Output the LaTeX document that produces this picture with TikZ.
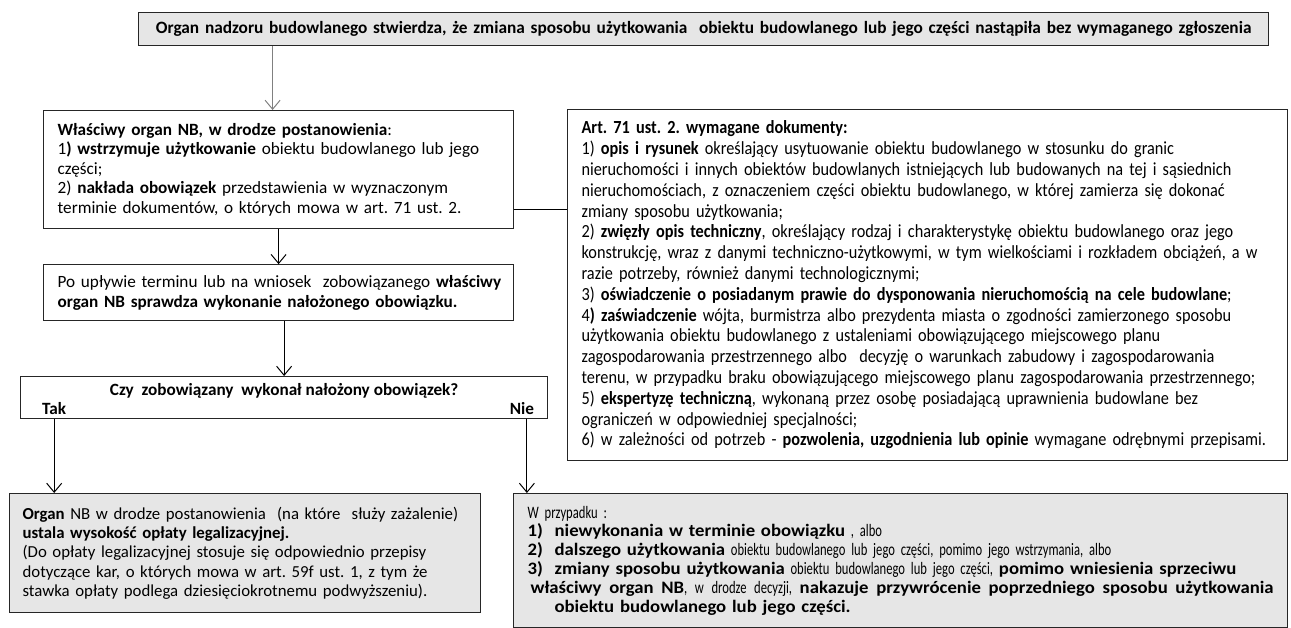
\documentclass[tikz,border=0pt]{standalone}
\usepackage{fontspec}
\setmainfont{Carlito}
\newfontfamily\docsfont{Carlito}[FakeStretch=0.88]
\newfontfamily\casefont{Carlito}[FakeStretch=0.72]
\newfontfamily\caseboldfont{Carlito Bold}[FakeStretch=1.07]
\newcommand{\casebf}[1]{{\caseboldfont #1}}
\usetikzlibrary{arrows.meta,positioning}
\definecolor{boxgray}{RGB}{230,230,230}
\frenchspacing

\begin{document}
\begin{tikzpicture}[
  x=1pt,y=-1pt,
  plainbox/.style={rectangle,draw=black!85,line width=1.2pt,fill=white,anchor=north west,
               inner xsep=14pt,inner ysep=3pt,align=left,font=\fontsize{17.2}{19.5}\selectfont},
  graybox/.style={plainbox,fill=boxgray},
  lbl/.style={font=\bfseries\fontsize{17.2}{19.5}\selectfont,inner sep=0pt},
  arr/.style={-{Straight Barb[length=9pt,width=15pt]},line width=1pt}
]
  \useasboundingbox (0,0) rectangle (1291,628);

  \node[graybox,minimum width=1130pt,minimum height=33pt,text width=1102pt,align=center,
        font=\bfseries\fontsize{17.3}{19.5}\selectfont] (start) at (138,12)
    {Organ nadzoru budowlanego stwierdza, że zmiana sposobu użytkowania\ \ obiektu budowlanego lub jego części nastąpiła bez wymaganego zgłoszenia};

  \node[plainbox,minimum height=118pt,text width=442pt] (order) at (43,110)
    {\textbf{Właściwy organ NB, w drodze postanowienia}:\\
     1\textbf{) wstrzymuje użytkowanie} obiektu budowlanego lub jego\\
     części;\\
     2) \textbf{nakłada obowiązek} przedstawienia w wyznaczonym\\
     terminie dokumentów, o których mowa w art. 71 ust. 2.};

  \node[plainbox,minimum height=56pt,text width=442pt,below=35pt of order.south west,anchor=north west] (verify)
    {\mbox{Po upływie terminu lub na wniosek\ \ zobowiązanego \textbf{właściwy}}\\
     \textbf{organ NB sprawdza wykonanie nałożonego obowiązku.}};

  \node[plainbox,minimum width=527pt,minimum height=42pt] (decision) at (20,376) {};
  \node[lbl,below=7pt of decision.north] (question) {Czy\ \ zobowiązany\ \ wykonał nałożony obowiązek?};
  \node[lbl,anchor=base west] (yes) at ([xshift=22pt,yshift=5pt]decision.south west) {Tak};
  \node[lbl,anchor=base east] (no) at ([xshift=-14pt,yshift=5pt]decision.south east) {Nie};

  \node[plainbox,minimum height=351pt,text width=692pt,font=\docsfont\fontsize{18.5}{20.8}\selectfont] (docs) at (567,109)
    {\textbf{Art. 71 ust. 2. wymagane dokumenty:}\\
     1) \textbf{opis i rysunek} określający usytuowanie obiektu budowlanego w stosunku do granic\\
     nieruchomości i innych obiektów budowlanych istniejących lub budowanych na tej i sąsiednich\\
     nieruchomościach, z oznaczeniem części obiektu budowlanego, w której zamierza się dokonać\\
     zmiany sposobu użytkowania;\\
     2) \textbf{zwięzły opis techniczny}, określający rodzaj i charakterystykę obiektu budowlanego oraz jego\\
     konstrukcję, wraz z danymi techniczno-użytkowymi, w tym wielkościami i rozkładem obciążeń, a w\\
     razie potrzeby, również danymi technologicznymi;\\
     3) \textbf{oświadczenie o posiadanym prawie do dysponowania nieruchomością na cele budowlane};\\
     4\textbf{) zaświadczenie} wójta, burmistrza albo prezydenta miasta o zgodności zamierzonego sposobu\\
     użytkowania obiektu budowlanego z ustaleniami obowiązującego miejscowego planu\\
     zagospodarowania przestrzennego albo\ \ decyzję o warunkach zabudowy i zagospodarowania\\
     terenu, w przypadku braku obowiązującego miejscowego planu zagospodarowania przestrzennego;\\
     5) \textbf{ekspertyzę techniczną}, wykonaną przez osobę posiadającą uprawnienia budowlane bez\\
     ograniczeń w odpowiedniej specjalności;\\
     6) w zależności od potrzeb - \textbf{pozwolenia, uzgodnienia lub opinie} wymagane odrębnymi przepisami.};

  \node[graybox,minimum height=119pt,text width=445pt,inner xsep=13pt,
        font=\fontsize{16.8}{19.4}\selectfont] (fee) at (9,493)
    {\mbox{\textbf{Organ} NB w drodze postanowienia\ \ (na które\ \ służy zażalenie)}\\
     \textbf{ustala wysokość opłaty legalizacyjnej.}\\
     (Do opłaty legalizacyjnej stosuje się odpowiednio przepisy\\
     dotyczące kar, o których mowa w art. 59f ust. 1, z tym że\\
     stawka opłaty podlega dziesięciokrotnemu podwyższeniu).};

  \node[graybox,minimum height=134pt,text width=746pt,inner ysep=1pt,
        font=\casefont\fontsize{17.5}{18.8}\selectfont] (restore) at (513,493)
    {W przypadku :\\
     \makebox[27pt][l]{\casebf{1)}}\casebf{niewykonania w terminie obowiązku} , albo\\
     \makebox[27pt][l]{\casebf{2)}}\casebf{dalszego użytkowania} obiektu budowlanego lub jego części, pomimo jego wstrzymania, albo\\
     \makebox[27pt][l]{\casebf{3)}}\casebf{zmiany sposobu użytkowania} obiektu budowlanego lub jego części, \casebf{pomimo wniesienia sprzeciwu}\\
     \leavevmode\hbox to 746pt{\spaceskip=\fontdimen2\font plus 1fil\relax\hspace*{3pt}\casebf{właściwy organ NB}, w drodze decyzji, \casebf{nakazuje przywrócenie poprzedniego sposobu użytkowania}}\\
     \hspace*{27pt}\casebf{obiektu budowlanego lub jego części.}};

  % connectors
  \draw[arr,black!50] ([xshift=-6pt]order.north |- start.south) -- ([xshift=-6pt]order.north);
  \draw[line width=1pt] ([yshift=-40pt]order.east) -- ([yshift=-40pt]order.east -| docs.west);
  \draw[arr] (order.south) -- (verify.north);
  \draw[arr] (verify.south -| decision.north) -- (decision.north);
  \draw[arr] (yes.south |- decision.south) -- (yes.south |- fee.north);
  \draw[arr] ([xshift=5pt]no.south |- decision.south) -- ([xshift=5pt]no.south |- restore.north);
\end{tikzpicture}
\end{document}
